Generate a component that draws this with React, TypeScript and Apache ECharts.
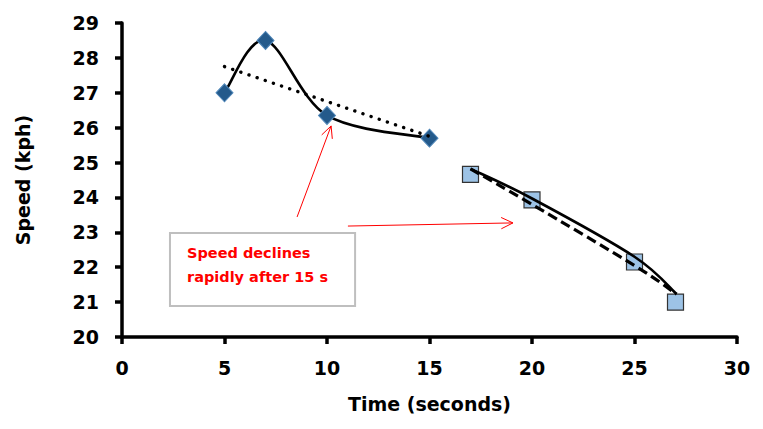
import React, { useEffect, useRef } from "react";
import * as echarts from "echarts";

// Measured series (diamonds)
const diamondTimes = [5, 7, 10, 15];
const diamondSpeeds = [27.0, 28.5, 26.35, 25.7];
// Linear trend for the first group
const trend1Times = [5, 15];
const trend1Speeds = [27.75, 25.75];
// Measured series (squares)
const squareTimes = [17, 20, 25, 27];
const squareSpeeds = [24.66, 23.93, 22.15, 21.0];
// Solid curve over squares
const curve2Times = [17, 20, 25, 27.05];
const curve2Speeds = [24.82, 23.97, 22.3, 21.23];
// Dashed trend over squares
const trend2Times = [17, 20, 25, 27.05];
const trend2Speeds = [24.82, 23.8, 22.05, 21.23];

const xTicks = [0, 5, 10, 15, 20, 25, 30];
const yTicks = [20, 21, 22, 23, 24, 25, 26, 27, 28, 29];

// annotation anchors in data coordinates
const noteBox = [[2.34, 22.98], [11.37, 20.89]];
const noteTextAt = [3.17, 22.75];
const noteText = "Speed declines\nrapidly after 15 s";
const arrowA = [[8.54, 23.44], [10.2, 26.05]];
const arrowB = [[11.02, 23.18], [19.07, 23.27]];

const zip = (a: number[], b: number[]) => a.map((v, i) => [v, b[i]]);

const FONT = "DejaVu Sans";

// Smooth curve (Catmull-Rom, like a spreadsheet "smoothed line") through points given in data space
function smoothCurve(points: number[][], lineStyle: any, z: number) {
  return {
    type: "custom",
    coordinateSystem: "cartesian2d",
    data: [points[0]],
    z,
    silent: true,
    renderItem: (_params: any, api: any) => {
      const p = points.map((d) => api.coord(d));
      let d = `M${p[0][0]},${p[0][1]}`;
      for (let i = 0; i < p.length - 1; i++) {
        const p0 = p[Math.max(0, i - 1)];
        const p1 = p[i];
        const p2 = p[i + 1];
        const p3 = p[Math.min(p.length - 1, i + 2)];
        const c1 = [p1[0] + (p2[0] - p0[0]) / 6, p1[1] + (p2[1] - p0[1]) / 6];
        const c2 = [p2[0] - (p3[0] - p1[0]) / 6, p2[1] - (p3[1] - p1[1]) / 6];
        d += ` C${c1[0]},${c1[1]} ${c2[0]},${c2[1]} ${p2[0]},${p2[1]}`;
      }
      return {
        type: "path",
        shape: { pathData: d },
        style: { fill: "none", stroke: "#000", ...lineStyle },
      };
    },
  };
}

export default function App() {
  const ref = useRef<HTMLDivElement>(null);
  useEffect(() => {
    if (!ref.current) return;
    const chart = echarts.init(ref.current, undefined, { renderer: "svg" });
    const axisCommon = {
      axisLine: { show: true, lineStyle: { color: "#000", width: 3.5 } },
      axisTick: { show: true, length: 7, lineStyle: { color: "#000", width: 3.5 } },
      splitLine: { show: false },
      nameLocation: "middle" as const,
      nameTextStyle: { fontFamily: FONT, fontWeight: "bold", fontSize: 19, color: "#000" },
    };
    const option: any = {
      animation: false,
      backgroundColor: "#fff",
      grid: { left: 122, right: 26, top: 23, bottom: 92, containLabel: false },
      xAxis: {
        type: "value",
        min: xTicks[0],
        max: xTicks[xTicks.length - 1],
        interval: 5,
        name: "Time (seconds)",
        nameGap: 57,
        ...axisCommon,
        axisLabel: { fontFamily: FONT, fontWeight: "bold", fontSize: 19, color: "#000", margin: 21 },
      },
      yAxis: {
        type: "value",
        min: yTicks[0],
        max: yTicks[yTicks.length - 1],
        interval: 1,
        name: "Speed (kph)",
        nameGap: 90,
        ...axisCommon,
        axisLabel: { fontFamily: FONT, fontWeight: "bold", fontSize: 19, color: "#000", margin: 23 },
      },
      series: [
        smoothCurve(zip(diamondTimes, diamondSpeeds), { lineWidth: 2.6 }, 1),
        {
          type: "scatter",
          data: zip(diamondTimes, diamondSpeeds),
          symbol: "diamond",
          symbolSize: [17, 18],
          itemStyle: { color: "#245a8b", borderColor: "#4f86b8", borderWidth: 1, opacity: 1 },
          z: 2,
        },
        {
          type: "line",
          data: zip(trend1Times, trend1Speeds),
          showSymbol: false,
          symbol: "none",
          lineStyle: { color: "#000", width: 3.4, type: [0.1, 8.5], cap: "round" },
          z: 4,
        },
        {
          type: "scatter",
          data: zip(squareTimes, squareSpeeds),
          symbol: "rect",
          symbolSize: 16,
          itemStyle: { color: "#9dc3e6", borderColor: "#333", borderWidth: 1.2, opacity: 1 },
          z: 2,
        },
        smoothCurve(zip(curve2Times, curve2Speeds), { lineWidth: 2.6 }, 4),
        smoothCurve(zip(trend2Times, trend2Speeds), { lineWidth: 3.2, lineDash: [10, 5] }, 4),
      ],
    };
    chart.setOption(option);

    const px = (p: number[]) => chart.convertToPixel({ gridIndex: 0 }, p) as number[];
    const arrow = (seg: number[][]) => {
      const a = px(seg[0]);
      const b = px(seg[1]);
      const ang = Math.atan2(b[1] - a[1], b[0] - a[0]);
      const L = 13;
      const spread = 0.45;
      const h1 = [b[0] - L * Math.cos(ang - spread), b[1] - L * Math.sin(ang - spread)];
      const h2 = [b[0] - L * Math.cos(ang + spread), b[1] - L * Math.sin(ang + spread)];
      const st = { stroke: "#ff0000", lineWidth: 1, fill: null };
      return [
        { type: "line", shape: { x1: a[0], y1: a[1], x2: b[0], y2: b[1] }, style: st, z: 10 },
        { type: "polyline", shape: { points: [h1, b, h2] }, style: st, z: 10 },
      ];
    };
    const b0 = px(noteBox[0]);
    const b1 = px(noteBox[1]);
    const t0 = px(noteTextAt);
    chart.setOption({
      graphic: [
        ...arrow(arrowA),
        ...arrow(arrowB),
        {
          type: "rect",
          shape: { x: b0[0], y: b0[1], width: b1[0] - b0[0], height: b1[1] - b0[1] },
          style: { fill: "#fff", stroke: "#bfbfbf", lineWidth: 2 },
          z: 10,
        },
        {
          type: "text",
          x: t0[0],
          y: t0[1],
          style: {
            text: noteText,
            fill: "#ff0000",
            fontFamily: FONT,
            fontWeight: "bold",
            fontSize: 14.5,
            lineHeight: 24,
          },
          z: 11,
        },
      ],
    });
    return () => chart.dispose();
  }, []);
  return (
    <div
      ref={ref}
      style={{ position: "fixed", left: 0, top: 0, width: 763, height: 429, background: "#fff" }}
    />
  );
}
